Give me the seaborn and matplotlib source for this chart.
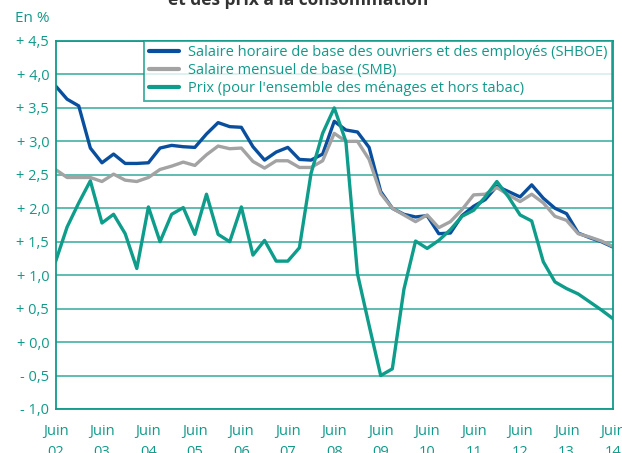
import pandas as pd
import numpy as np
import matplotlib
matplotlib.use('Agg')
import matplotlib.pyplot as plt
import seaborn as sns


# Quarterly year-on-year changes, June 2002 .. June 2014
shboe = [3.83, 3.63, 3.53, 2.90, 2.68, 2.81, 2.67, 2.67, 2.68, 2.90,
         2.94, 2.92, 2.91, 3.11, 3.28, 3.22, 3.21, 2.92, 2.72, 2.84,
         2.91, 2.73, 2.72, 2.81, 3.30, 3.17, 3.14, 2.91, 2.25, 2.00,
         1.91, 1.87, 1.89, 1.62, 1.63, 1.89, 2.03, 2.13, 2.33, 2.25,
         2.17, 2.35, 2.15, 2.00, 1.92, 1.63, 1.56, 1.50, 1.42]
smb = [2.58, 2.46, 2.46, 2.46, 2.40, 2.51, 2.42, 2.40, 2.46, 2.58,
       2.63, 2.69, 2.64, 2.80, 2.93, 2.89, 2.90, 2.70, 2.60, 2.71,
       2.71, 2.61, 2.61, 2.71, 3.12, 3.00, 3.00, 2.73, 2.22, 2.00,
       1.90, 1.80, 1.90, 1.71, 1.80, 1.98, 2.20, 2.21, 2.31, 2.20,
       2.10, 2.21, 2.08, 1.88, 1.82, 1.62, 1.57, 1.51, 1.43]
prix = [1.20, 1.72, 2.08, 2.41, 1.78, 1.91, 1.62, 1.10, 2.02, 1.50,
        1.91, 2.01, 1.61, 2.21, 1.61, 1.50, 2.02, 1.30, 1.52, 1.21,
        1.21, 1.41, 2.52, 3.12, 3.50, 3.00, 1.02, 0.25, -0.50, -0.40,
        0.79, 1.51, 1.40, 1.52, 1.68, 1.88, 1.97, 2.17, 2.40, 2.17,
        1.90, 1.81, 1.20, 0.90, 0.80, 0.72, 0.60, 0.48, 0.35]

series_names = ["Salaire horaire de base des ouvriers et des employés (SHBOE)",
                "Salaire mensuel de base (SMB)",
                "Prix (pour l'ensemble des ménages et hors tabac)"]
year_labels = ["02", "03", "04", "05", "06", "07", "08", "09", "10", "11", "12", "13", "14"]
ytick_values = [-1.0, -0.5, 0.0, 0.5, 1.0, 1.5, 2.0, 2.5, 3.0, 3.5, 4.0, 4.5]
ytick_labels = ["- 1,0", "- 0,5", "+ 0,0", "+ 0,5", "+ 1,0", "+ 1,5",
                "+ 2,0", "+ 2,5", "+ 3,0", "+ 3,5", "+ 4,0", "+ 4,5"]

teal = '#119a8a'
colors = ['#0a4f9e', '#a3a3a3', '#0e9c8b']

#Long format for seaborn
q = np.arange(len(shboe))
df = pd.DataFrame({
    'q': np.concatenate([q, q, q]),
    'val': shboe + smb + prix,
    'serie': [series_names[0]] * len(q) + [series_names[1]] * len(q) + [series_names[2]] * len(q),
})

sns.set_style("white")
plt.rcParams['font.family'] = ['Open Sans', 'DejaVu Sans']

fig = plt.figure(figsize=(6.22, 4.53), dpi=100)
ax = fig.add_axes([55.5 / 622, 44 / 453, (613 - 55.5) / 622, (409 - 41) / 453])

for y in ytick_values:
    ax.axhline(y, color=teal, lw=1.1, alpha=0.85, zorder=0)

sns.lineplot(data=df, x='q', y='val', hue='serie', hue_order=series_names,
             palette=colors, linewidth=2.4, ax=ax, legend=True)

ax.set_xlim(0, 48)
ax.set_ylim(-1.0, 4.5)
ax.set_xlabel("")
ax.set_ylabel("")

ax.set_xticks(np.arange(0, 49, 2))
ax.set_xticklabels(["Juin\n" + year_labels[i // 4] if i % 4 == 0 else "" for i in range(0, 49, 2)],
                   linespacing=1.55)
ax.set_yticks(ytick_values)
ax.set_yticklabels(ytick_labels)
ax.tick_params(axis='x', colors=teal, length=3, width=1.1, pad=8, labelsize=10.5)
ax.tick_params(axis='y', colors=teal, length=2.5, width=1.1, pad=2, labelsize=10.5)
for lbl in ax.get_xticklabels() + ax.get_yticklabels():
    lbl.set_color(teal)
for side in ['left', 'bottom', 'right', 'top']:
    ax.spines[side].set_color(teal)
    ax.spines[side].set_linewidth(1.3)

leg = ax.legend(loc='upper right', bbox_to_anchor=(0.998, 1.0), borderaxespad=0,
                frameon=True, fancybox=False, fontsize=10.5, handlelength=2.1,
                labelspacing=0.2, borderpad=0.3, handletextpad=0.6)
leg.get_frame().set_edgecolor(teal)
leg.get_frame().set_linewidth(1.3)
for t in leg.get_texts():
    t.set_color(teal)
for h in leg.get_lines():
    h.set_linewidth(3)

fig.text(15 / 622, 1 - 19 / 453, "En %", color=teal, fontsize=11, ha='left', va='center')
fig.text(298 / 622, 1 - 5 / 453, "et des prix à la consommation", color='#333333',
         fontsize=12.5, fontweight='bold', ha='center', va='baseline')

fig.savefig('out.png', dpi=100)
